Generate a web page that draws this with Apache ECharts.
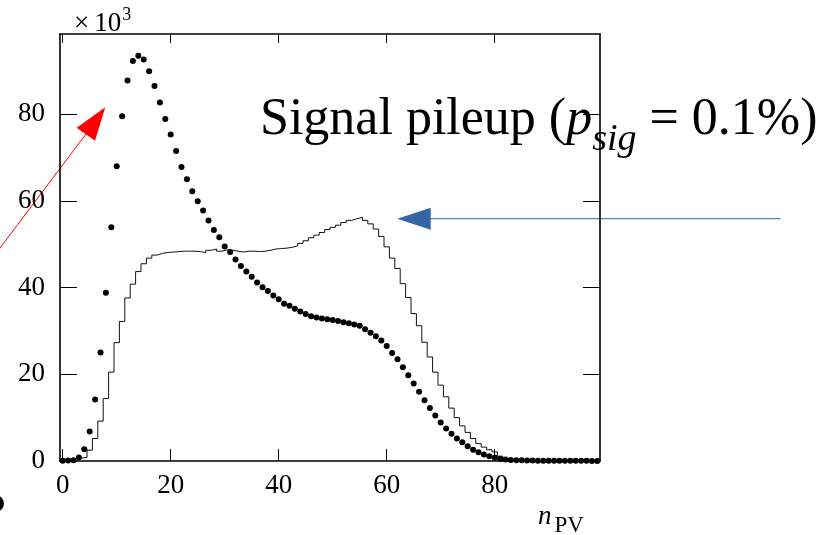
<!DOCTYPE html>
<html>
<head>
<meta charset="utf-8">
<script src="https://cdn.jsdelivr.net/npm/echarts@6/dist/echarts.min.js"></script>
<style>
  html, body { margin: 0; padding: 0; background: #fff; }
  #main { width: 833px; height: 535px; }
</style>
</head>
<body>
<div id="main"></div>
<script>
// values in units of 10^3, one entry per n_PV = 0..99
var nPV = [];
for (var i = 0; i < 100; i++) nPV.push(i);

var signalPileup = [
  0.05, 0.1, 0.2, 0.8, 2.7, 6.8, 14.2, 25.0, 38.8, 53.9,
  68.0, 79.5, 87.8, 92.3, 93.5, 92.6, 89.9, 86.5, 82.7, 78.9,
  75.3, 71.5, 67.8, 65.0, 62.2, 59.9, 57.8, 55.5, 53.3, 51.6,
  49.5, 48.2, 46.5, 45.0, 43.7, 42.5, 41.2, 40.1, 39.2, 38.2,
  37.3, 36.3, 35.8, 35.1, 34.5, 33.9, 33.4, 33.1, 32.9, 32.7,
  32.5, 32.3, 32.0, 31.8, 31.5, 31.2, 30.4, 29.6, 28.8, 27.8,
  26.5, 24.9, 23.5, 21.6, 19.8, 17.9, 16.0, 14.0, 12.2, 10.5,
  8.9, 7.5, 6.3, 5.2, 4.3, 3.4, 2.6, 2.0, 1.5, 1.1,
  0.8, 0.5, 0.35, 0.25, 0.2, 0.15, 0.1, 0.1, 0.08, 0.07,
  0.06, 0.05, 0.05, 0.04, 0.04, 0.03, 0.03, 0.03, 0.02, 0.02
];

var histPileup = [
  0.4, 0.5, 0.6, 0.7, 0.8, 2.5, 5.2, 9.2, 14.4, 20.5,
  27.3, 32.2, 37.6, 40.8, 43.7, 45.5, 46.8, 47.5, 47.9, 48.1,
  48.2, 48.3, 48.4, 48.4, 48.4, 48.3, 48.1, 48.6, 48.9, 48.4,
  48.7, 48.6, 48.4, 48.2, 48.4, 48.4, 48.3, 48.4, 48.6, 48.9,
  49.0, 49.1, 49.3, 49.6, 50.2, 50.8, 51.5, 52.1, 52.7, 53.4,
  53.9, 54.4, 55.0, 55.5, 55.9, 56.2, 55.5, 54.7, 53.5, 51.8,
  49.4, 46.8, 44.4, 40.9, 37.7, 34.0, 31.2, 27.4, 24.0, 20.5,
  17.5, 14.8, 12.2, 10.0, 8.1, 6.6, 5.2, 4.0, 3.2, 2.6,
  2.1, 1.1, 0.6, 0.4, 0.3, 0.2, 0.15, 0.1, 0.1, 0.08,
  0.07, 0.06, 0.05, 0.05, 0.04, 0.04, 0.03, 0.03, 0.03, 0.02
];

var xTicks = [0, 20, 40, 60, 80];
var yTicks = [0, 20, 40, 60, 80];

var serif = 'Liberation Serif';

var chart = echarts.init(document.getElementById('main'));

var dots = nPV.map(function (n, i) { return [n, signalPileup[i]]; });
// histogram: one step per bin, edges at n +- 0.5
var steps = nPV.map(function (n, i) { return [n - 0.5, histPileup[i]]; });
steps.push([nPV[nPV.length - 1] + 0.5, histPileup[histPileup.length - 1]]);

var frameLine = { color: '#000', width: 1.6 };

var option = {
  animation: false,
  backgroundColor: '#fff',
  grid: { left: 60, right: 233, top: 34, bottom: 74 },
  xAxis: [
    {
      type: 'value', min: -0.5, max: 99.5, position: 'bottom',
      axisLine: { onZero: false, lineStyle: frameLine },
      axisTick: { inside: true, length: 12, customValues: xTicks, lineStyle: { color: '#000' } },
      axisLabel: { customValues: xTicks, fontFamily: serif, fontSize: 27, color: '#000', margin: 11 },
      splitLine: { show: false }
    },
    {
      type: 'value', min: -0.5, max: 99.5, position: 'top',
      axisLine: { onZero: false, lineStyle: frameLine },
      axisTick: { inside: true, length: 9, customValues: xTicks, lineStyle: { color: '#000' } },
      axisLabel: { show: false },
      splitLine: { show: false }
    }
  ],
  yAxis: [
    {
      type: 'value', min: 0, max: 98.5, position: 'left',
      axisLine: { show: true, onZero: false, lineStyle: frameLine },
      axisTick: { show: true, inside: true, length: 17, customValues: yTicks, lineStyle: { color: '#000' } },
      axisLabel: { customValues: yTicks, fontFamily: serif, fontSize: 27, color: '#000', margin: 15 },
      splitLine: { show: false }
    },
    {
      type: 'value', min: 0, max: 98.5, position: 'right',
      axisLine: { show: true, onZero: false, lineStyle: frameLine },
      axisTick: { show: true, inside: true, length: 17, customValues: yTicks, lineStyle: { color: '#000' } },
      axisLabel: { show: false },
      splitLine: { show: false }
    }
  ],
  series: [
    {
      name: 'hist', type: 'line', step: 'end', data: steps,
      showSymbol: false, symbol: 'none',
      lineStyle: { color: '#111', width: 1 }
    },
    {
      name: 'signal', type: 'scatter', data: dots,
      symbol: 'circle', symbolSize: 6,
      itemStyle: { color: '#000', opacity: 1 }
    }
  ],
  graphic: [
    {
      type: 'text', left: 74, top: 2,
      style: {
        text: '{x|×}{a|10}{b|3}',
        rich: {
          x: { fontFamily: serif, fontSize: 27, lineHeight: 28, padding: [8, 0, 0, 0], verticalAlign: 'top', fill: '#000' },
          a: { fontFamily: serif, fontSize: 27, lineHeight: 28, padding: [8, 0, 0, 5], verticalAlign: 'top', fill: '#000' },
          b: { fontFamily: serif, fontSize: 18, lineHeight: 19, padding: [4, 0, 0, 1], verticalAlign: 'top', fill: '#000' }
        }
      }
    },
    {
      type: 'text', left: 260, top: 94,
      style: {
        text: '{a|Signal pileup (}{i|p}{s|sig}{a| = 0.1%)}',
        rich: {
          a: { fontFamily: serif, fontSize: 52, lineHeight: 56, verticalAlign: 'top', fill: '#000' },
          i: { fontFamily: serif, fontStyle: 'italic', fontSize: 52, lineHeight: 56, verticalAlign: 'top', fill: '#000' },
          s: { fontFamily: serif, fontStyle: 'italic', fontSize: 38, lineHeight: 40, padding: [27, 0, 0, 0], verticalAlign: 'top', fill: '#000' }
        }
      }
    },
    {
      type: 'text', left: 538, top: 503,
      style: {
        text: '{n|n}{s|PV}',
        rich: {
          n: { fontFamily: serif, fontStyle: 'italic', fontSize: 27, lineHeight: 28, verticalAlign: 'top', fill: '#000' },
          s: { fontFamily: serif, fontSize: 23, lineHeight: 24, padding: [11, 0, 0, 3], verticalAlign: 'top', fill: '#000' }
        }
      }
    },
    // red arrow
    {
      type: 'line', shape: { x1: -6, y1: 256, x2: 86, y2: 134 },
      style: { stroke: '#ff0000', lineWidth: 1 }
    },
    {
      type: 'polygon', shape: { points: [[105.3, 107.3], [76.7, 127.7], [95, 140.7]] },
      style: { fill: '#ff0000' }
    },
    // blue arrow
    {
      type: 'line', shape: { x1: 780.7, y1: 218.7, x2: 428, y2: 218.7 },
      style: { stroke: '#4f81c7', lineWidth: 1.2 }
    },
    {
      type: 'polygon', shape: { points: [[397.3, 218.7], [430.7, 207.7], [430.7, 229.7]] },
      style: { fill: '#3465a4' }
    },
    // clipped mark at the bottom-left edge
    {
      type: 'circle', shape: { cx: -4, cy: 503.5, r: 8 },
      style: { fill: '#000' }
    }
  ]
};

chart.setOption(option);
</script>
</body>
</html>
